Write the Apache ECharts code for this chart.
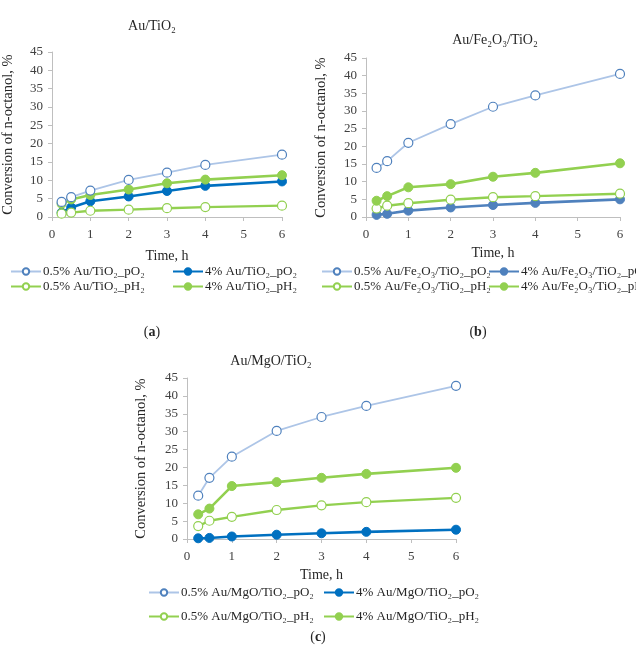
<!DOCTYPE html>
<html>
<head>
<meta charset="utf-8">
<script src="https://cdn.jsdelivr.net/npm/echarts@6/dist/echarts.min.js"></script>
<style>html,body{margin:0;padding:0;background:#fff}#c{width:636px;height:645px}</style>
</head>
<body>
<div id="c"></div>
<script>
// ---- data ----
const timeH = [0.25, 0.5, 1, 2, 3, 4, 6];
const xTicks = [0, 1, 2, 3, 4, 5, 6];
const yMax = 45;

// Panel (a) Au/TiO2
const a_05_pO2 = [4.1, 5.4, 7.2, 10.1, 12.1, 14.2, 17.0];
const a_4_pO2  = [1.2, 2.6, 4.3, 5.6, 7.1, 8.5, 9.7];
const a_05_pH2 = [0.9, 1.2, 1.7, 2.0, 2.4, 2.7, 3.1];
const a_4_pH2  = [3.6, 4.8, 6.0, 7.5, 9.2, 10.2, 11.4];

// Panel (b) Au/Fe2O3/TiO2
const b_05_pO2 = [13.9, 15.8, 21.0, 26.3, 31.2, 34.4, 40.5];
const b_4_pO2  = [0.6, 0.9, 1.8, 2.7, 3.4, 4.0, 5.0];
const b_05_pH2 = [2.4, 3.2, 3.9, 4.9, 5.6, 5.9, 6.6];
const b_4_pH2  = [4.6, 5.9, 8.4, 9.3, 11.4, 12.5, 15.2];

// Panel (c) Au/MgO/TiO2
const c_05_pO2 = [12.1, 17.1, 23.0, 30.2, 34.1, 37.2, 42.8];
const c_4_pO2  = [0.2, 0.3, 0.7, 1.2, 1.6, 2.0, 2.6];
const c_05_pH2 = [3.6, 5.1, 6.2, 8.1, 9.4, 10.3, 11.5];
const c_4_pH2  = [6.9, 8.5, 14.8, 15.9, 17.1, 18.2, 19.9];

const namesA = ['0.5% Au/TiO₂_pO₂', '4% Au/TiO₂_pO₂', '0.5% Au/TiO₂_pH₂', '4% Au/TiO₂_pH₂'];
const namesB = ['0.5% Au/Fe₂O₃/TiO₂_pO₂', '4% Au/Fe₂O₃/TiO₂_pO₂', '0.5% Au/Fe₂O₃/TiO₂_pH₂', '4% Au/Fe₂O₃/TiO₂_pH₂'];
const namesC = ['0.5% Au/MgO/TiO₂_pO₂', '4% Au/MgO/TiO₂_pO₂', '0.5% Au/MgO/TiO₂_pH₂', '4% Au/MgO/TiO₂_pH₂'];
const panelTitles = ['Au/TiO₂', 'Au/Fe₂O₃/TiO₂', 'Au/MgO/TiO₂'];
const yTitle = 'Conversion of n-octanol, %';
const xTitle = 'Time, h';

// ---- styling ----
const FONT = '"Liberation Serif", "DejaVu Serif", serif';
const LIGHT_LINE = '#adc5e7', LIGHT_MK = '#4f81bd';
const DARK_A = '#0070c0', DARK_B = '#4f81bd';
const GREEN = '#92d050';

const grids = [
  {left: 44, top: 52, width: 238, height: 165},
  {left: 366, top: 58, width: 254, height: 159},
  {left: 187, top: 378, width: 269, height: 161}
];
const xNameGap = [32, 29, 29];
const yNameGap = [36, 37, 38];

function pts(ys){ return timeH.map((t,i)=>[t, ys[i]]); }

function mkSeries(idx, names, d, dark){
  const common = {type:'line', xAxisIndex: idx, yAxisIndex: idx, symbol:'circle', symbolSize: 9, animation:false, z: 2};
  return [
    Object.assign({}, common, {name: names[0], data: pts(d[0]),
      lineStyle:{color: LIGHT_LINE, width: 1.8}, itemStyle:{color:'#fff', borderColor: LIGHT_MK, borderWidth: 1.2}, z: 3}),
    Object.assign({}, common, {name: names[1], data: pts(d[1]),
      lineStyle:{color: dark, width: 2.6}, itemStyle:{color: dark, borderColor: dark, borderWidth: 1}}),
    Object.assign({}, common, {name: names[2], data: pts(d[2]),
      lineStyle:{color: GREEN, width: 2.4}, itemStyle:{color:'#fff', borderColor: GREEN, borderWidth: 1.2}}),
    Object.assign({}, common, {name: names[3], data: pts(d[3]),
      lineStyle:{color: GREEN, width: 2.6}, itemStyle:{color: GREEN, borderColor: GREEN, borderWidth: 1}})
  ];
}

const series = []
  .concat(mkSeries(0, namesA, [a_05_pO2, a_4_pO2, a_05_pH2, a_4_pH2], DARK_A))
  .concat(mkSeries(1, namesB, [b_05_pO2, b_4_pO2, b_05_pH2, b_4_pH2], DARK_B))
  .concat(mkSeries(2, namesC, [c_05_pO2, c_4_pO2, c_05_pH2, c_4_pH2], DARK_A));

const axisCol = '#bfbfbf';
const labelCol = '#404040';
const xAxes = grids.map((g,i)=>({
  type:'value', gridIndex:i, min: xTicks[0], max: xTicks[xTicks.length-1], interval: 1,
  name: xTitle, nameLocation:'middle', nameGap: xNameGap[i],
  nameTextStyle:{fontFamily: FONT, fontSize: 14, color:'#262626'},
  axisLine:{show:true, lineStyle:{color: axisCol, width: 1}},
  axisTick:{show:true, length: 4, lineStyle:{color: axisCol}},
  axisLabel:{fontFamily: FONT, fontSize: 13, color: labelCol, margin: 11},
  splitLine:{show:false}
}));
const yAxes = grids.map((g,i)=>({
  type:'value', gridIndex:i, min: 0, max: yMax, interval: 5,
  name: yTitle, nameLocation:'middle', nameGap: yNameGap[i], nameRotate: 90,
  nameTextStyle:{fontFamily: FONT, fontSize: 14.5, color:'#262626'},
  axisLine:{show:true, lineStyle:{color: axisCol, width: 1}},
  axisTick:{show:true, length: 4, lineStyle:{color: axisCol}},
  axisLabel:{fontFamily: FONT, fontSize: 13, color: labelCol, margin: 9},
  splitLine:{show:false}
}));

// legends: [name, left, centerY]
const legendPos = [
  [namesA[0], 10, 272], [namesA[1], 172, 272], [namesA[2], 10, 287], [namesA[3], 172, 287],
  [namesB[0], 321, 272], [namesB[1], 488, 272], [namesB[2], 321, 287], [namesB[3], 488, 287],
  [namesC[0], 148, 593], [namesC[1], 323, 593], [namesC[2], 148, 617], [namesC[3], 323, 617]
];
const legends = legendPos.map(p=>({
  data:[p[0]], left: p[1], top: p[2]-7, orient:'horizontal', padding: 0,
  itemWidth: 30, itemHeight: 8, itemGap: 2,
  textStyle:{fontFamily: FONT, fontSize: 13, color:'#262626', padding:[0,0,0,-3]},
  selectedMode: false
}));

const titles = [
  {text: panelTitles[0], left: 152, top: 19},
  {text: panelTitles[1], left: 495, top: 33},
  {text: panelTitles[2], left: 271, top: 354}
].map(t=>({text: t.text, left: t.left, top: t.top, textAlign:'center', padding:0,
  textStyle:{fontFamily: FONT, fontSize: 14, fontWeight:'normal', color:'#262626'}}));

const subLabels = [['a', 152, 325], ['b', 478, 325], ['c', 318, 630]].map(s=>({
  text: '(' + '{b|' + s[0] + '})', left: s[1], top: s[2], textAlign:'center', padding:0,
  textStyle:{fontFamily: FONT, fontSize: 14, fontWeight:'normal', color:'#262626',
    rich:{b:{fontFamily: FONT, fontSize: 14, fontWeight:'bold', color:'#262626'}}}
}));

const chart = echarts.init(document.getElementById('c'), null, {renderer:'canvas'});
chart.setOption({
  backgroundColor:'#ffffff',
  animation:false,
  title: titles.concat(subLabels),
  grid: grids,
  xAxis: xAxes,
  yAxis: yAxes,
  legend: legends,
  series: series
});
</script>
</body>
</html>
